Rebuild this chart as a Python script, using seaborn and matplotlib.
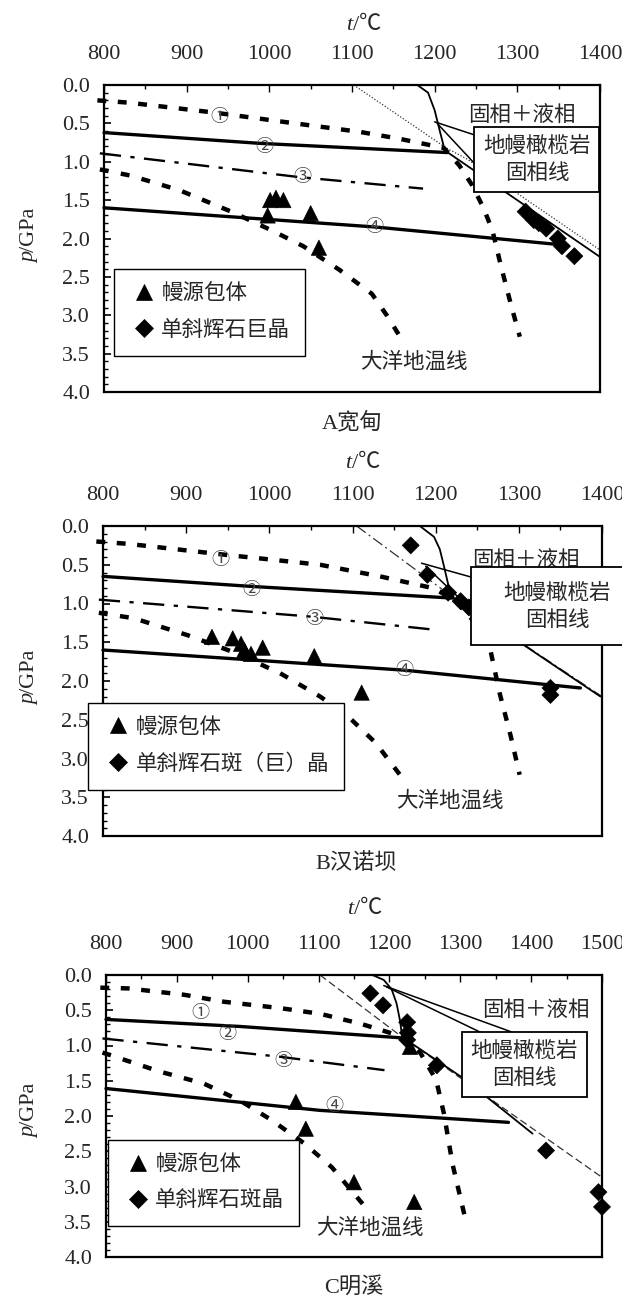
import pandas as pd
import matplotlib
matplotlib.use("Agg")
import matplotlib.pyplot as plt
from matplotlib.patches import Rectangle
from matplotlib.ticker import MultipleLocator
import seaborn as sns

# ---------------- data (t in °C, p in GPa) ----------------
panels = ["A", "B", "C"]
titles = {"A": "A宽甸", "B": "B汉诺坝", "C": "C明溪"}
t_max = {"A": 1400, "B": 1400, "C": 1500}
legend_labels = {
    "A": ["幔源包体", "单斜辉石巨晶"],
    "B": ["幔源包体", "单斜辉石斑（巨）晶"],
    "C": ["幔源包体", "单斜辉石斑晶"],
}

# geotherm ① (thick dashed, bends down steeply)
geo1 = {
    "A": ([792, 830, 934, 1031, 1109, 1157, 1211, 1230, 1245, 1259, 1270, 1280, 1292, 1303],
          [0.20, 0.23, 0.36, 0.50, 0.61, 0.70, 0.82, 1.05, 1.30, 1.60, 1.90, 2.35, 2.85, 3.28]),
    "B": ([792, 830, 946, 1061, 1133, 1196, 1220, 1240, 1256, 1265, 1277, 1290, 1301],
          [0.20, 0.23, 0.37, 0.50, 0.65, 0.80, 0.93, 1.15, 1.40, 1.56, 2.16, 2.70, 3.21]),
    "C": ([792, 831, 910, 967, 1046, 1102, 1159, 1204, 1221, 1244, 1266, 1277, 1289, 1306],
          [0.18, 0.19, 0.28, 0.38, 0.47, 0.55, 0.69, 0.83, 0.90, 1.11, 1.49, 1.97, 2.68, 3.41]),
}
# geotherm ② (thick solid)
geo2 = {
    "A": ([800, 988, 1215], [0.62, 0.76, 0.88]),
    "B": ([800, 979, 1220], [0.65, 0.78, 0.93]),
    "C": ([800, 989, 1215], [0.63, 0.73, 0.89]),
}
# geotherm ③ (dash-dot)
geo3 = {
    "A": ([795, 1036, 1186], [0.89, 1.20, 1.35]),
    "B": ([795, 1051, 1200], [0.95, 1.17, 1.34]),
    "C": ([795, 1046, 1193], [0.90, 1.16, 1.35]),
}
# geotherm ④ (thick solid)
geo4 = {
    "A": ([800, 1128, 1361], [1.60, 1.85, 2.09]),
    "B": ([800, 1162, 1374], [1.60, 1.86, 2.09]),
    "C": ([800, 1102, 1368], [1.61, 1.92, 2.09]),
}
# oceanic geotherm 大洋地温线 (thick dashed)
ocean = {
    "A": ([795, 832, 891, 954, 1002, 1041, 1085, 1124, 1142, 1157],
          [1.10, 1.18, 1.37, 1.65, 1.89, 2.10, 2.41, 2.72, 3.00, 3.26]),
    "B": ([795, 837, 902, 960, 1013, 1061, 1095, 1128, 1157],
          [1.12, 1.19, 1.41, 1.64, 1.90, 2.20, 2.46, 2.80, 3.21]),
    "C": ([795, 876, 938, 989, 1034, 1080, 1119, 1170],
          [1.10, 1.37, 1.54, 1.78, 2.06, 2.39, 2.73, 3.34]),
}
# mantle peridotite solidus (thin solid)
solidus = {
    "A": ([1179, 1192, 1200, 1206, 1211, 1216, 1400],
          [0.00, 0.10, 0.33, 0.59, 0.80, 0.88, 2.24]),
    "B": ([1181, 1198, 1205, 1210, 1215, 1222, 1398],
          [0.00, 0.14, 0.30, 0.52, 0.75, 0.93, 2.20]),
    "C": ([1176, 1192, 1203, 1210, 1215, 1218, 1305, 1402],
          [0.00, 0.07, 0.20, 0.40, 0.65, 0.88, 1.47, 2.25]),
}
# thin secondary line (dotted / dash-dot / dashed)
thin = {
    "A": ([1102, 1214, 1240, 1400], [0.00, 0.82, 0.97, 2.15]),
    "B": ([1105, 1222, 1400], [0.00, 0.93, 2.20]),
    "C": ([1102, 1218, 1500], [0.00, 0.88, 2.87]),
}
# 幔源包体 (triangles)
tri = {
    "A": ([998, 1001, 1008, 1017, 1050, 1060], [1.70, 1.50, 1.47, 1.50, 1.67, 2.12]),
    "B": ([931, 956, 966, 970, 978, 992, 1054, 1111],
          [1.43, 1.45, 1.52, 1.60, 1.65, 1.57, 1.68, 2.15]),
    "C": ([1229, 1068, 1082, 1150, 1235], [1.02, 1.80, 2.18, 2.94, 3.22]),
}
# 单斜辉石 (diamonds)
dia = {
    "A": ([1310, 1320, 1326, 1335, 1349, 1354, 1369],
          [1.65, 1.76, 1.80, 1.87, 2.00, 2.10, 2.23]),
    "B": ([1170, 1190, 1215, 1230, 1240, 1338, 1338],
          [0.25, 0.63, 0.86, 0.97, 1.05, 2.09, 2.18]),
    "C": ([1173, 1191, 1225, 1226, 1225, 1267, 1421, 1495, 1500],
          [0.26, 0.43, 0.67, 0.82, 0.92, 1.28, 2.49, 3.08, 3.29]),
}

# ---------------- layout (pixels of the 622x1300 figure) ----------------
W, H = 622, 1300
axes_px = {"A": (104, 85, 600, 392), "B": (103, 526, 602, 836), "C": (106, 975, 602, 1257)}
tlabel_px = {"A": (352, 25), "B": (351, 463), "C": (353, 910)}
plabel_px = {"A": (30, 238), "B": (30, 680), "C": (30, 1113)}
title_px = {"A": (352, 423), "B": (356, 864), "C": (354, 1287)}
leg_anchor = {"A": (0.02, 0.40), "B": (-0.03, 0.43), "C": (0.004, 0.415)}
circ_pos = {
    "A": [(939, 0.42), (994, 0.81), (1040, 1.20), (1127, 1.86)],
    "B": [(941, 0.44), (979, 0.83), (1054, 1.21), (1162, 1.86)],
    "C": [(933, 0.54), (972, 0.85), (1051, 1.23), (1122, 1.87)],
}
ocean_txt = {"A": (1175, 3.61), "B": (1217, 3.56), "C": (1173, 3.59)}
melt_txt = {"A": (1306, 0.42), "B": (1309, 0.46), "C": (1407, 0.52)}
box = {"A": (1248, 1399, 0.55, 1.40), "B": (1243, 1432, 0.53, 1.54), "C": (1302, 1479, 0.81, 1.73)}
box_txt = {"A": (1324, 0.98), "B": (1346, 1.05), "C": (1390, 1.28)}
pointer = {
    "A": [((1200, 0.48), (1248, 0.65)), ((1203, 0.50), (1248, 1.02))],
    "B": [((1183, 0.48), (1243, 0.66)), ((1188, 0.52), (1243, 1.08))],
    "C": [((1192, 0.15), (1373, 0.81)), ((1196, 0.17), (1328, 0.81))],
}
thin_style = {"A": (0, (1, 1.5)), "B": (0, (9, 3, 1.5, 3)), "C": (0, (6, 3))}

sns.set_theme(style="white")
plt.rcParams["font.family"] = ["Liberation Serif", "Noto Sans CJK SC", "DejaVu Sans"]
plt.rcParams["axes.edgecolor"] = "black"
plt.rcParams["axes.linewidth"] = 1.6

fig = plt.figure(figsize=(W / 100, H / 100), dpi=100)


def fig_text(px, py, s, **kw):
    return fig.text(px / W, 1 - py / H, s, **kw)


def line(ax, xy, lw, ls, color="black", z=3):
    sns.lineplot(x=xy[0], y=xy[1], ax=ax, color=color, lw=lw, linestyle=ls,
                 sort=False, estimator=None, clip_on=False, zorder=z)


for k in panels:
    x0, y0, x1, y1 = axes_px[k]
    ax = fig.add_axes([x0 / W, 1 - y1 / H, (x1 - x0) / W, (y1 - y0) / H])

    line(ax, thin[k], 0.9, thin_style[k], color="#333333", z=2)
    line(ax, solidus[k], 1.3, "-")
    line(ax, geo1[k], 3.2, (0, (2.0, 2.6)))
    line(ax, geo2[k], 2.4, "-")
    line(ax, geo3[k], 1.7, (0, (9, 4, 1.8, 4)))
    line(ax, geo4[k], 2.4, "-")
    line(ax, ocean[k], 3.2, (0, (2.0, 2.8)))
    for (a, b) in pointer[k]:
        line(ax, ([a[0], b[0]], [a[1], b[1]]), 1.1, "-", z=4)

    labs = legend_labels[k]
    df = pd.DataFrame({
        "t": tri[k][0] + dia[k][0],
        "p": tri[k][1] + dia[k][1],
        "kind": [labs[0]] * len(tri[k][0]) + [labs[1]] * len(dia[k][0]),
    })
    sns.scatterplot(data=df, x="t", y="p", hue="kind", style="kind", size="kind",
                    hue_order=labs, style_order=labs, size_order=labs,
                    palette={labs[0]: "black", labs[1]: "black"},
                    markers={labs[0]: "^", labs[1]: "D"},
                    sizes={labs[0]: 120, labs[1]: 75},
                    edgecolor="black", linewidth=0.5, ax=ax, zorder=5, clip_on=False)
    sns.move_legend(ax, "upper left", bbox_to_anchor=leg_anchor[k], title=None,
                    frameon=True, fancybox=False, edgecolor="black", framealpha=1,
                    fontsize=15.5, labelspacing=0.75, handletextpad=0.1,
                    borderpad=0.7, handlelength=1.4, borderaxespad=0)
    leg = ax.get_legend()
    leg.get_frame().set_linewidth(1.0)
    leg.set_zorder(8)

    # label box 地幔橄榄岩固相线
    bt0, bt1, bp0, bp1 = box[k]
    ax.add_patch(Rectangle((bt0, bp0), bt1 - bt0, bp1 - bp0, facecolor="white",
                           edgecolor="black", lw=1.3, zorder=6, clip_on=False))
    ax.text(*box_txt[k], "地幔橄榄岩\n固相线", ha="center", va="center", fontsize=15.5,
            linespacing=1.45, zorder=7)
    ax.text(*melt_txt[k], "固相＋液相", ha="center", va="center", fontsize=15.5, zorder=4)
    ax.text(*ocean_txt[k], "大洋地温线", ha="center", va="center", fontsize=15.5, zorder=4)
    for i, (ct, cp) in enumerate(circ_pos[k]):
        ax.text(ct, cp, "①②③④"[i], ha="center", va="center", fontsize=13,
                color="#444444", zorder=4)

    ax.set_xlim(800, t_max[k])
    ax.set_ylim(4.0, 0.0)
    ax.set_xlabel("")
    ax.set_ylabel("")
    ax.xaxis.tick_top()
    ax.xaxis.set_major_locator(MultipleLocator(100))
    ax.xaxis.set_minor_locator(MultipleLocator(50))
    ax.yaxis.set_major_locator(MultipleLocator(0.5))
    ax.yaxis.set_minor_locator(MultipleLocator(0.1))
    ax.yaxis.set_major_formatter(matplotlib.ticker.FormatStrFormatter("%.1f"))
    ax.tick_params(axis="x", which="both", direction="in", top=True, bottom=False,
                   labeltop=True, labelbottom=False, labelsize=16, pad=15,
                   color="black")
    ax.tick_params(axis="x", which="major", length=5, width=1)
    ax.tick_params(axis="x", which="minor", length=3, width=1)
    ax.tick_params(axis="y", which="both", direction="in", left=True, right=False,
                   labelsize=16, pad=10, color="black")
    ax.tick_params(axis="y", which="major", length=5, width=1.2)
    ax.tick_params(axis="y", which="minor", length=3, width=1)

    # axis titles: italic symbol + unit
    tx, ty = tlabel_px[k]
    fig_text(tx, ty, "t", style="italic", fontsize=16, ha="right", va="center")
    fig_text(tx + 1, ty, "/℃", fontsize=16, ha="left", va="center")
    px_, py_ = plabel_px[k]
    fig_text(px_, py_ + 14, "p", style="italic", fontsize=16, rotation=90,
             rotation_mode="anchor", ha="right", va="center")
    fig_text(px_, py_ + 14, "/GPa", fontsize=16, rotation=90,
             rotation_mode="anchor", ha="left", va="center")
    fig_text(*title_px[k], titles[k], fontsize=16, ha="center", va="center")

fig.savefig("out.png", dpi=100)
